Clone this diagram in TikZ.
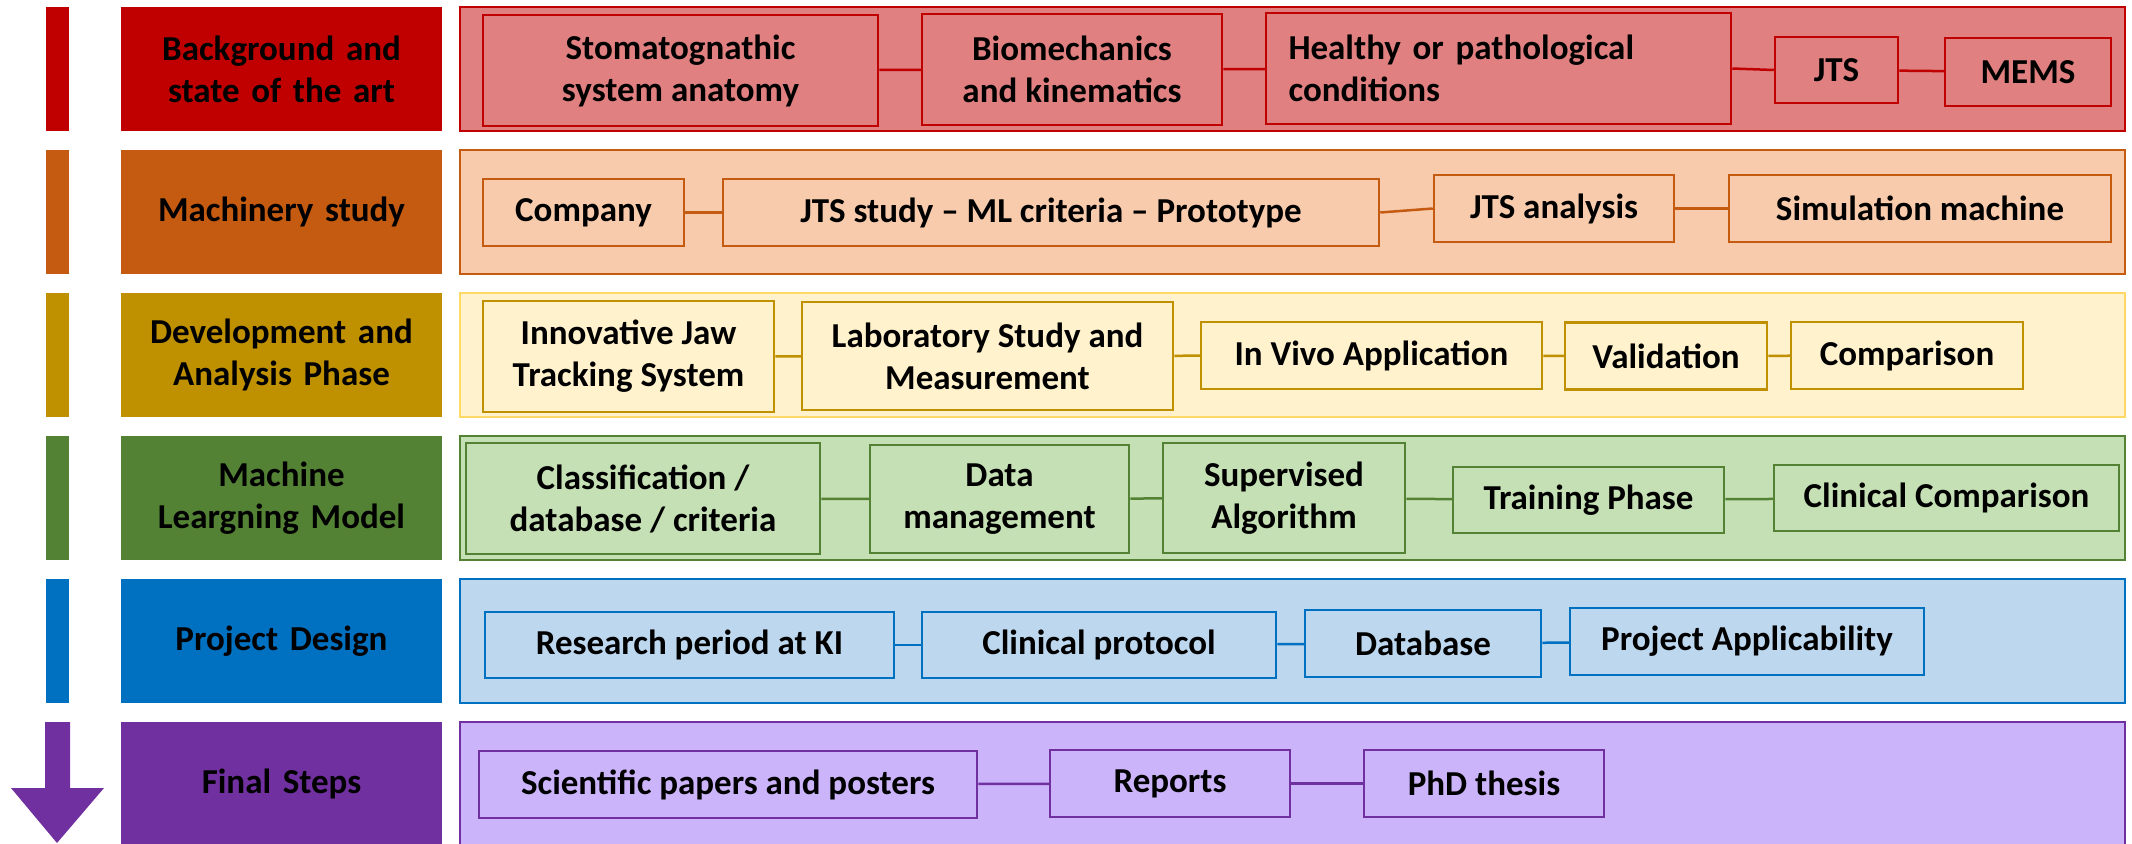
\documentclass[tikz,border=0pt]{standalone}
\usepackage{fontspec}
\setmainfont{Carlito}

\definecolor{bgDark}{RGB}{192,0,0}
\definecolor{bgLight}{RGB}{224,128,128}
\definecolor{maDark}{RGB}{197,90,17}
\definecolor{maLight}{RGB}{248,203,173}
\definecolor{dvDark}{RGB}{191,144,0}
\definecolor{dvLight}{RGB}{255,242,204}
\definecolor{dvEdge}{RGB}{255,217,102}
\definecolor{mlDark}{RGB}{84,130,53}
\definecolor{mlLight}{RGB}{197,224,180}
\definecolor{pdDark}{RGB}{0,112,192}
\definecolor{pdLight}{RGB}{189,215,238}
\definecolor{fsDark}{RGB}{112,48,160}
\definecolor{fsLight}{RGB}{203,180,250}

\tikzset{
  phase/.style={minimum width=321pt, minimum height=124pt, text width=310pt,
    align=center, inner sep=0pt},
  frame/.style={draw, line width=2pt, minimum width=1665pt, minimum height=124pt},
  item/.style={draw, line width=2.5pt, align=center, inner sep=0pt},
  link/.style={line width=2.5pt},
}

\begin{document}
\begin{tikzpicture}[x=1pt,y=-1pt]
    \useasboundingbox (0,0) rectangle (2132,843);
    \clip (0,0) rectangle (2132,843);
    \begin{scope}[font=\bfseries\fontsize{35}{42}\selectfont]

    % Row 1: background
    \begin{scope}[item/.append style={draw=bgDark}, link/.append style={draw=bgDark}]
    \fill[bgDark] (46,7) rectangle (69,131);
    \node[phase, fill=bgDark] (bglabel) at (281.5,69) {Background and\\state of the art};
    \node[frame, draw=bgDark, fill=bgLight] (bgframe) at (1292.5,69) {};
    \node[item, minimum width=395pt, minimum height=111pt] (stoma) at (680.5,70.5) {Stomatognathic\\system anatomy};
    \node[item, minimum width=300pt, minimum height=111pt] (biomech) at (1072,69.5) {Biomechanics\\and kinematics};
    \node[item, minimum width=465pt, minimum height=111pt, text width=420pt, align=left] (health) at (1498.5,68.5) {Healthy or pathological\\conditions};
    \node[item, minimum width=123pt, minimum height=66pt] (jts) at (1836.5,70) {JTS};
    \node[item, minimum width=166pt, minimum height=68pt] (mems) at (2028,72) {MEMS};
    \draw[link] (stoma) -- (biomech);
    \draw[link] (biomech) -- (health);
    \draw[link] (health.east) -- (jts.west);
    \draw[link] (jts) -- (mems);
    \end{scope}

    % Row 2: machinery
    \begin{scope}[item/.append style={draw=maDark}, link/.append style={draw=maDark}]
    \fill[maDark] (46,150) rectangle (69,274);
    \node[phase, fill=maDark] (malabel) at (281.5,212) {Machinery study};
    \node[frame, draw=maDark, fill=maLight] (maframe) at (1292.5,212) {};
    \node[item, minimum width=201pt, minimum height=67pt] (company) at (583.5,212.5) {Company};
    \node[item, minimum width=656pt, minimum height=67pt] (jtsstudy) at (1051,212.5) {JTS study -- ML criteria -- Prototype};
    \node[item, minimum width=240pt, minimum height=67pt] (jtsanal) at (1554,208.5) {JTS analysis};
    \node[item, minimum width=382pt, minimum height=67pt] (simul) at (1920,208.5) {Simulation machine};
    \draw[link] (company) -- (jtsstudy);
    \draw[link] (jtsstudy.east) -- (jtsanal.west);
    \draw[link] (jtsanal) -- (simul);
    \end{scope}

    % Row 3: development
    \begin{scope}[item/.append style={draw=dvDark}, link/.append style={draw=dvDark}]
    \fill[dvDark] (46,293) rectangle (69,417);
    \node[phase, fill=dvDark] (dvlabel) at (281.5,355) {Development and\\Analysis Phase};
    \node[frame, draw=dvEdge, fill=dvLight] (dvframe) at (1292.5,355) {};
    \node[item, minimum width=291pt, minimum height=111pt] (innov) at (628.5,356.5) {Innovative Jaw\\Tracking System};
    \node[item, minimum width=371pt, minimum height=108pt] (lab) at (987.5,356) {Laboratory Study and\\Measurement};
    \node[item, minimum width=341pt, minimum height=67pt] (vivo) at (1371.5,355.5) {In Vivo Application};
    \node[item, minimum width=202pt, minimum height=67pt] (valid) at (1666,356) {Validation};
    \node[item, minimum width=232pt, minimum height=67pt] (compar) at (1907,355.5) {Comparison};
    \draw[link] (innov) -- (lab);
    \draw[link] (lab) -- (vivo);
    \draw[link] (vivo) -- (valid);
    \draw[link] (valid) -- (compar);
    \end{scope}

    % Row 4: machine learning
    \begin{scope}[item/.append style={draw=mlDark}, link/.append style={draw=mlDark}]
    \fill[mlDark] (46,436) rectangle (69,560);
    \node[phase, fill=mlDark] (mllabel) at (281.5,498) {Machine\\Leargning Model};
    \node[frame, draw=mlDark, fill=mlLight] (mlframe) at (1292.5,498) {};
    \node[item, minimum width=354pt, minimum height=111pt] (classif) at (643,498.5) {Classification /\\database / criteria};
    \node[item, minimum width=259pt, minimum height=108pt] (datam) at (999.5,499) {Data\\management};
    \node[item, minimum width=242pt, minimum height=110pt] (superv) at (1284,498) {Supervised\\Algorithm};
    \node[item, minimum width=271pt, minimum height=66pt] (train) at (1588.5,500) {Training Phase};
    \node[item, minimum width=345pt, minimum height=66pt] (clinc) at (1946.5,498) {Clinical Comparison};
    \draw[link] (classif) -- (datam);
    \draw[link] (datam) -- (superv);
    \draw[link] (superv) -- (train);
    \draw[link] (train) -- (clinc);
    \end{scope}

    % Row 5: project design
    \begin{scope}[item/.append style={draw=pdDark}, link/.append style={draw=pdDark}]
    \fill[pdDark] (46,579) rectangle (69,703);
    \node[phase, fill=pdDark] (pdlabel) at (281.5,641) {Project Design};
    \node[frame, draw=pdDark, fill=pdLight] (pdframe) at (1292.5,641) {};
    \node[item, minimum width=409pt, minimum height=66pt] (research) at (689.5,645) {Research period at KI};
    \node[item, minimum width=354pt, minimum height=66pt] (clinp) at (1099,645) {Clinical protocol};
    \node[item, minimum width=236pt, minimum height=67pt] (datab) at (1423,643.5) {Database};
    \node[item, minimum width=354pt, minimum height=67pt] (projapp) at (1747,641.5) {Project Applicability};
    \draw[link] (research) -- (clinp);
    \draw[link] (clinp) -- (datab);
    \draw[link] (datab) -- (projapp);
    \end{scope}

    % Row 6: final steps, the bar ends in an arrow
    \begin{scope}[item/.append style={draw=fsDark}, link/.append style={draw=fsDark}]
    \fill[fsDark] (45,722) -- (70,722) -- (70,788) -- (104,788) -- (57,843)
        -- (11,788) -- (45,788) -- cycle;
    \node[phase, fill=fsDark] (fslabel) at (281.5,784) {Final Steps};
    \node[frame, draw=fsDark, fill=fsLight] (fsframe) at (1292.5,784) {};
    \node[item, minimum width=498pt, minimum height=67pt] (sci) at (728,784.5) {Scientific papers and posters};
    \node[item, minimum width=240pt, minimum height=67pt] (reports) at (1170,783.5) {Reports};
    \node[item, minimum width=240pt, minimum height=67pt] (phd) at (1484,783.5) {PhD thesis};
    \draw[link] (sci) -- (reports);
    \draw[link] (reports) -- (phd);
    \end{scope}

    \end{scope}
\end{tikzpicture}
\end{document}
